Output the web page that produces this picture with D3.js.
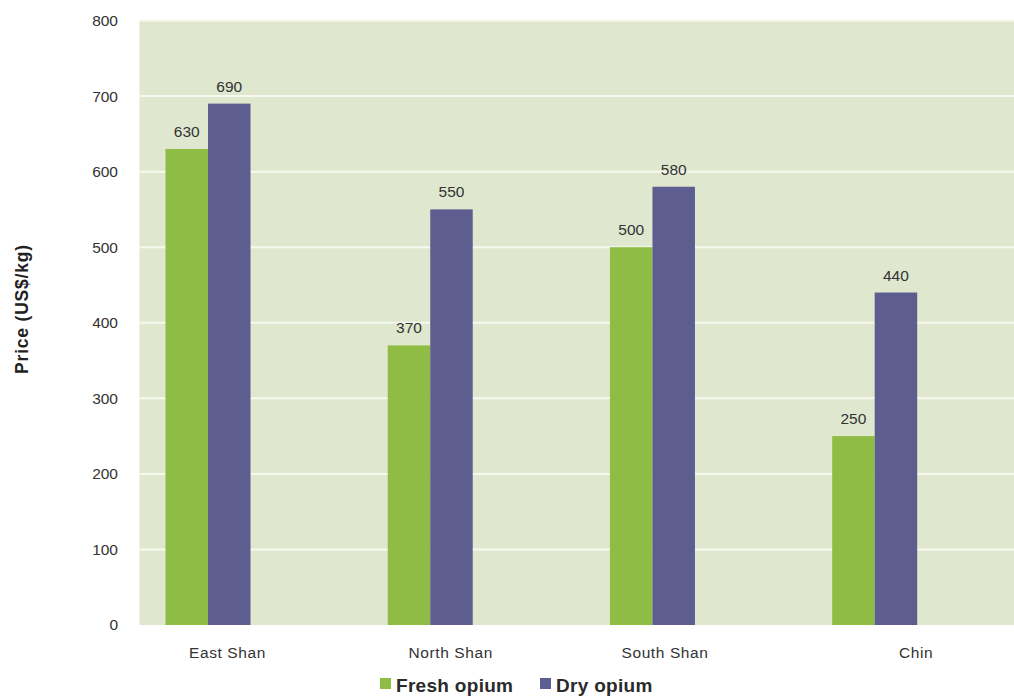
<!DOCTYPE html>
<html><head><meta charset="utf-8">
<script src="https://cdn.jsdelivr.net/npm/d3@7"></script>
<style>body{margin:0;background:#fff;font-family:"Liberation Sans",Arial,sans-serif;}</style>
</head><body><svg id="c" width="1014" height="697"></svg>
<script>
const categories = ["East Shan", "North Shan", "South Shan", "Chin"];
const seriesNames = ["Fresh opium", "Dry opium"];
const freshValues = [630, 370, 500, 250];
const dryValues = [690, 550, 580, 440];
const yTicks = [0, 100, 200, 300, 400, 500, 600, 700, 800];

// layout
const colors = ["#8fbc45", "#5d5e8f"];
const labelNudge = [19, 20, 12, 41];
const plot = {left: 139.5, right: 1014, top: 20.5, bottom: 625};
const barW = 42.5;

const svg = d3.select("#c");
const x = d3.scalePoint().domain(categories).range([208, 874.7]);
const y = d3.scaleLinear().domain([0, 800]).range([plot.bottom, plot.top]);

svg.append("rect").attr("x", plot.left).attr("y", plot.top)
  .attr("width", plot.right - plot.left).attr("height", plot.bottom - plot.top)
  .attr("fill", "#e0e7cf");

svg.append("g").selectAll("line").data(yTicks.filter(d => d > 0)).join("line")
  .attr("x1", plot.left).attr("x2", plot.right)
  .attr("y1", d => y(d)).attr("y2", d => y(d))
  .attr("stroke", "#f7f9f1").attr("stroke-width", 2);

const yAxis = d3.axisLeft(y).tickValues(yTicks).tickSize(0).tickPadding(0);
const gy = svg.append("g").attr("transform", `translate(118,0)`).call(yAxis);
gy.select(".domain").remove();
gy.selectAll("text").attr("font-size", 15.5).attr("fill", "#333")
  .attr("font-family", "Liberation Sans, Arial, sans-serif");

const series = [freshValues, dryValues];
series.forEach((vals, si) => {
  const g = svg.append("g");
  g.selectAll("rect").data(categories).join("rect")
    .attr("x", d => x(d) + (si === 0 ? -barW : 0))
    .attr("width", barW)
    .attr("y", (d, i) => y(vals[i]))
    .attr("height", (d, i) => plot.bottom - y(vals[i]))
    .attr("fill", colors[si]);
  g.selectAll("text").data(categories).join("text")
    .attr("x", d => x(d) + (si === 0 ? -barW / 2 : barW / 2))
    .attr("y", (d, i) => y(vals[i]) - 12)
    .attr("text-anchor", "middle")
    .attr("font-size", 15.5).attr("fill", "#333")
    .text((d, i) => vals[i]);
});

const xAxis = d3.axisBottom(x).tickSize(0).tickPadding(0);
const gx = svg.append("g").attr("transform", `translate(0,${plot.bottom + 22})`).call(xAxis);
gx.select(".domain").remove();
gx.selectAll("text").attr("font-size", 15.5).attr("fill", "#333")
  .attr("letter-spacing", 0.6)
  .attr("font-family", "Liberation Sans, Arial, sans-serif")
  .attr("dx", (d, i) => labelNudge[i]);

svg.append("text").attr("transform", "translate(28,309) rotate(-90)")
  .attr("text-anchor", "middle").attr("font-size", 17.5).attr("font-weight", "bold")
  .attr("letter-spacing", 0.8)
  .attr("fill", "#222").text("Price (US$/kg)");

const legendX = [380, 540];
const lg = svg.append("g");
seriesNames.forEach((n, i) => {
  lg.append("rect").attr("x", legendX[i]).attr("y", 678).attr("width", 11).attr("height", 11).attr("fill", colors[i]);
  lg.append("text").attr("x", legendX[i] + 16).attr("y", 692)
    .attr("font-size", 19).attr("font-weight", "bold").attr("letter-spacing", 0.3)
    .attr("fill", "#2a2a2a").text(n);
});
</script></body></html>
